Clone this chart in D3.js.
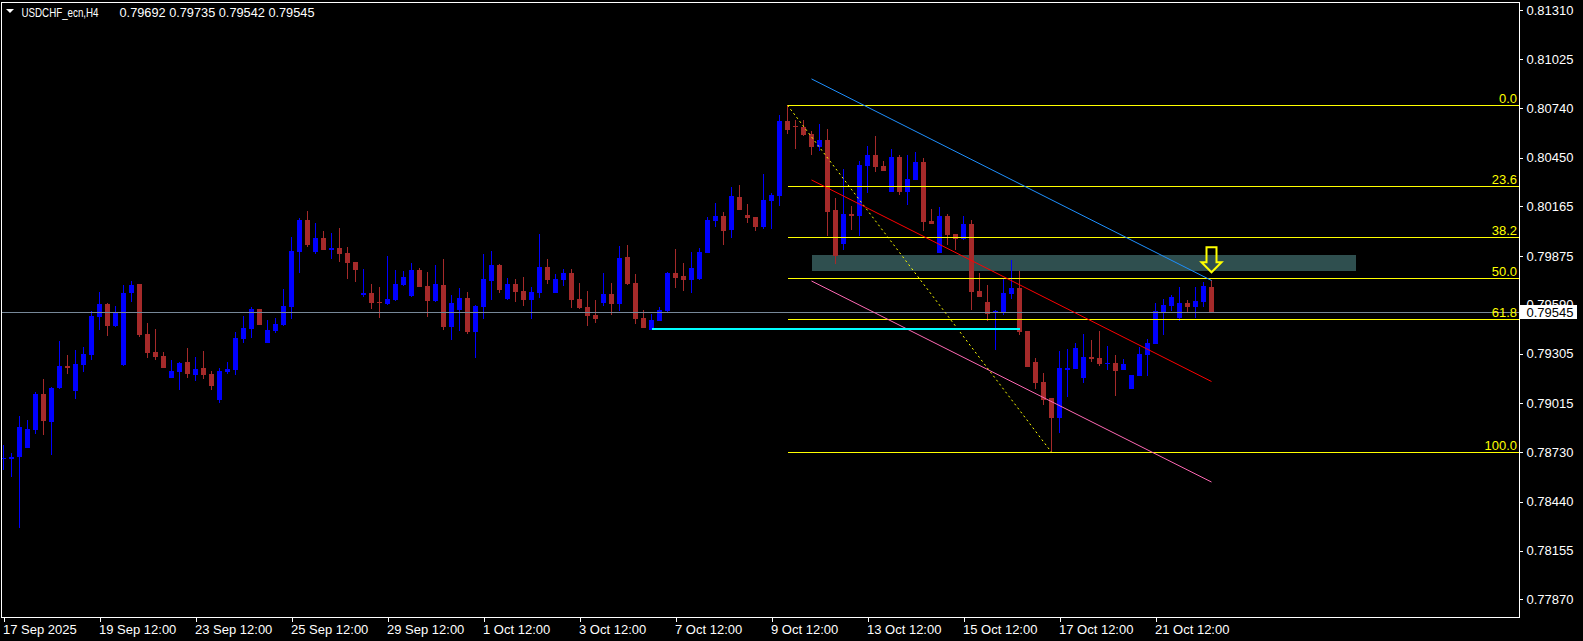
<!DOCTYPE html>
<html><head><meta charset="utf-8">
<script src="https://cdn.jsdelivr.net/npm/d3@7"></script>
<style>
html,body{margin:0;padding:0;background:#000;overflow:hidden}
svg{display:block}
text{font-family:"Liberation Sans",Arial,sans-serif}
</style></head><body>
<svg id="chart" width="1583" height="641"></svg>
<script>
const symbolTitle = "USDCHF_ecn,H4";
const headerValues = ["0.79692", "0.79735", "0.79542", "0.79545"];

const opens = [0.78690,0.78690,0.78701,0.78754,0.78859,0.79069,0.78905,0.79104,0.79233,0.79086,
0.79238,0.79297,0.79519,0.79595,0.79466,0.79238,0.79659,0.79711,0.79419,0.79314,
0.79291,0.79162,0.79198,0.79256,0.79180,0.79221,0.79186,0.79034,0.79198,0.79209,
0.79390,0.79449,0.79565,0.79367,0.79437,0.79472,0.79577,0.79898,0.80085,0.79898,
0.79980,0.79910,0.79922,0.79892,0.79840,0.79647,0.79659,0.79606,0.79595,0.79618,
0.79706,0.79641,0.79793,0.79700,0.79612,0.79706,0.79460,0.79560,0.79630,0.79431,
0.79577,0.79729,0.79822,0.79624,0.79711,0.79671,0.79618,0.79659,0.79811,0.79659,
0.79735,0.79776,0.79624,0.79577,0.79530,0.79600,0.79653,0.79595,0.79869,0.79717,
0.79513,0.79443,0.79495,0.79554,0.79776,0.79758,0.79735,0.79741,0.79892,0.80079,
0.80109,0.80027,0.80220,0.80114,0.80103,0.80044,0.80196,0.80226,0.80663,0.80636,
0.80628,0.80587,0.80512,0.80552,0.80144,0.79945,0.80120,0.80109,0.80401,0.80465,
0.80401,0.80249,0.80453,0.80249,0.80319,0.80424,0.80079,0.79892,0.80109,0.80003,
0.79974,0.80062,0.79671,0.79606,0.79542,0.79542,0.79653,0.79688,0.79437,0.79256,
0.79139,0.79046,0.78929,0.79209,0.79215,0.79162,0.79285,0.79279,0.79244,0.79250,
0.79209,0.79098,0.79174,0.79297,0.79361,0.79548,0.79583,0.79513,0.79600,0.79577,
0.79606,0.79692];
const highs = [0.78771,0.78725,0.78941,0.78917,0.79081,0.79157,0.79110,0.79379,0.79297,0.79326,
0.79344,0.79554,0.79665,0.79600,0.79583,0.79706,0.79729,0.79711,0.79484,0.79449,
0.79314,0.79268,0.79256,0.79338,0.79285,0.79320,0.79203,0.79221,0.79256,0.79431,
0.79525,0.79577,0.79565,0.79501,0.79513,0.79682,0.79986,0.80097,0.80138,0.80068,
0.80021,0.80009,0.80038,0.79928,0.79840,0.79799,0.79711,0.79694,0.79875,0.79793,
0.79787,0.79834,0.79805,0.79782,0.79822,0.79857,0.79647,0.79688,0.79665,0.79589,
0.79887,0.79904,0.79828,0.79746,0.79741,0.79752,0.79694,0.80003,0.79857,0.79770,
0.79799,0.79799,0.79717,0.79671,0.79618,0.79776,0.79717,0.79933,0.79939,0.79770,
0.79560,0.79536,0.79577,0.79782,0.79916,0.79834,0.79898,0.79922,0.80103,0.80185,
0.80132,0.80279,0.80290,0.80179,0.80103,0.80354,0.80243,0.80698,0.80755,0.80669,
0.80669,0.80605,0.80646,0.80617,0.80214,0.80383,0.80167,0.80430,0.80517,0.80576,
0.80430,0.80500,0.80465,0.80465,0.80482,0.80447,0.80150,0.80161,0.80120,0.80003,
0.80109,0.80085,0.79776,0.79706,0.79560,0.79741,0.79852,0.79787,0.79437,0.79279,
0.79192,0.79046,0.79320,0.79332,0.79367,0.79419,0.79384,0.79437,0.79349,0.79297,
0.79274,0.79180,0.79344,0.79390,0.79600,0.79624,0.79647,0.79694,0.79618,0.79694,
0.79723,0.79735];
const lows = [0.78625,0.78584,0.78286,0.78754,0.78835,0.78830,0.78713,0.79098,0.79186,0.79040,
0.79198,0.79268,0.79443,0.79408,0.79460,0.79233,0.79606,0.79402,0.79279,0.79268,
0.79221,0.79162,0.79092,0.79162,0.79145,0.79157,0.79092,0.79017,0.79186,0.79180,
0.79367,0.79396,0.79472,0.79367,0.79425,0.79466,0.79507,0.79776,0.79928,0.79887,
0.79910,0.79857,0.79840,0.79741,0.79723,0.79636,0.79565,0.79513,0.79589,0.79612,
0.79700,0.79636,0.79694,0.79519,0.79606,0.79443,0.79384,0.79437,0.79419,0.79279,
0.79507,0.79618,0.79659,0.79618,0.79606,0.79583,0.79507,0.79630,0.79711,0.79659,
0.79700,0.79571,0.79565,0.79466,0.79484,0.79583,0.79530,0.79554,0.79706,0.79478,
0.79455,0.79449,0.79495,0.79542,0.79688,0.79671,0.79659,0.79735,0.79892,0.80044,
0.79939,0.79980,0.80144,0.80068,0.80021,0.80033,0.80033,0.80167,0.80587,0.80500,
0.80576,0.80465,0.80488,0.79992,0.79828,0.79910,0.80027,0.79992,0.80243,0.80366,
0.80371,0.80249,0.80232,0.80173,0.80319,0.80021,0.80062,0.79892,0.79939,0.79910,
0.79968,0.79560,0.79636,0.79495,0.79326,0.79530,0.79624,0.79414,0.79227,0.79098,
0.79005,0.78729,0.78841,0.79052,0.79215,0.79133,0.79256,0.79233,0.79209,0.79057,
0.79209,0.79098,0.79174,0.79174,0.79361,0.79414,0.79554,0.79495,0.79542,0.79513,
0.79577,0.79542];
const closes = [0.78695,0.78701,0.78876,0.78865,0.79069,0.78911,0.79104,0.79233,0.79221,0.79244,
0.79303,0.79525,0.79595,0.79466,0.79548,0.79659,0.79706,0.79414,0.79309,0.79285,
0.79221,0.79203,0.79250,0.79186,0.79215,0.79180,0.79116,0.79203,0.79215,0.79396,
0.79455,0.79565,0.79472,0.79443,0.79478,0.79583,0.79904,0.80085,0.79939,0.79980,
0.79910,0.79922,0.79887,0.79834,0.79793,0.79659,0.79600,0.79600,0.79624,0.79711,
0.79752,0.79793,0.79694,0.79612,0.79711,0.79460,0.79600,0.79630,0.79431,0.79583,
0.79741,0.79822,0.79676,0.79711,0.79665,0.79618,0.79665,0.79811,0.79735,0.79741,
0.79776,0.79618,0.79571,0.79525,0.79507,0.79653,0.79595,0.79863,0.79711,0.79507,
0.79455,0.79501,0.79560,0.79776,0.79746,0.79735,0.79805,0.79898,0.80085,0.80109,
0.80021,0.80226,0.80144,0.80097,0.80044,0.80202,0.80232,0.80663,0.80611,0.80630,
0.80582,0.80512,0.80552,0.80132,0.79875,0.80120,0.80109,0.80406,0.80465,0.80395,
0.80371,0.80453,0.80249,0.80325,0.80424,0.80074,0.80062,0.80109,0.79998,0.79974,
0.80062,0.79665,0.79636,0.79536,0.79554,0.79659,0.79688,0.79431,0.79227,0.79133,
0.79034,0.78929,0.79221,0.79221,0.79338,0.79285,0.79274,0.79244,0.79250,0.79203,
0.79244,0.79180,0.79303,0.79367,0.79554,0.79589,0.79636,0.79600,0.79577,0.79612,
0.79700,0.79545];

const xTickIndex = [0, 12, 24, 36, 48, 60, 72, 84, 96, 108, 120, 132, 144];
const xTickLabels = ["17 Sep 2025", "19 Sep 12:00", "23 Sep 12:00", "25 Sep 12:00", "29 Sep 12:00",
  "1 Oct 12:00", "3 Oct 12:00", "7 Oct 12:00", "9 Oct 12:00", "13 Oct 12:00", "15 Oct 12:00",
  "17 Oct 12:00", "21 Oct 12:00"];
const yTickLabels = ["0.81310", "0.81025", "0.80740", "0.80450", "0.80165", "0.79875", "0.79590",
  "0.79305", "0.79015", "0.78730", "0.78440", "0.78155", "0.77870"];

const bidPrice = 0.79545;
const fibLabels = ["0.0", "23.6", "38.2", "50.0", "61.8", "100.0"];
const fibPrices = [0.80755, 0.80282, 0.79984, 0.79745, 0.79505, 0.78729];
const fibAnchorIdx = [98, 131];
const fibAnchorPrice = [0.80755, 0.78729];
const channelIdx = [101, 151];
const channelUpper = [0.80909, 0.79732];
const channelMid = [0.80319, 0.79142];
const channelLower = [0.79729, 0.78555];
const supportIdx = [81, 127];
const supportPrice = [0.79450, 0.79450];
const zoneIdx = [101, 169];
const zonePrice = [0.79881, 0.79787];
const arrowIdx = 151;
const arrowTipPrice = 0.79780;

const FONT = '"Liberation Sans",Arial,sans-serif';
const svg = d3.select("#chart");
const W = 1583, H = 641;
const plotL = 1.5, plotR = 1519.5, plotT = 2.5, plotB = 617.5;

svg.append("rect").attr("width", W).attr("height", H).attr("fill", "#000");

const x = d3.scaleLinear().domain([0, 151]).range([3.5, 1211.5]);
const y = d3.scaleLinear().domain([0.77767, 0.81358]).range([617, 2]);

// zone rectangle (background)
svg.append("rect")
  .attr("x", x(zoneIdx[0])).attr("width", x(zoneIdx[1]) - x(zoneIdx[0]))
  .attr("y", y(zonePrice[0])).attr("height", y(zonePrice[1]) - y(zonePrice[0]))
  .attr("fill", "#2F4F4F").attr("shape-rendering", "crispEdges");

// candles
const candles = d3.range(opens.length).map(i => ({i, o: opens[i], h: highs[i], l: lows[i], c: closes[i]}));
const cg = svg.append("g").attr("shape-rendering", "crispEdges");
const col = d => d.c > d.o ? "#0000FF" : "#A52A2A";
cg.selectAll("line.wick").data(candles).join("line")
  .attr("x1", d => x(d.i)).attr("x2", d => x(d.i))
  .attr("y1", d => y(d.h)).attr("y2", d => y(d.l))
  .attr("stroke", col).attr("stroke-width", 1);
cg.selectAll("rect.body").data(candles).join("rect")
  .attr("x", d => x(d.i) - 2.5).attr("width", 5)
  .attr("y", d => y(Math.max(d.o, d.c)))
  .attr("height", d => Math.max(1, Math.abs(y(d.o) - y(d.c))))
  .attr("fill", col);

// bid line
svg.append("line").attr("x1", plotL).attr("x2", plotR + 4)
  .attr("y1", y(bidPrice)).attr("y2", y(bidPrice))
  .attr("stroke", "#778899").attr("stroke-width", 1).attr("shape-rendering", "crispEdges");

// fibonacci
const fg = svg.append("g");
fibPrices.forEach((p, k) => {
  fg.append("line").attr("x1", x(fibAnchorIdx[0])).attr("x2", plotR)
    .attr("y1", y(p)).attr("y2", y(p))
    .attr("stroke", "#FFFF00").attr("stroke-width", 1).attr("shape-rendering", "crispEdges");
  fg.append("text").attr("x", 1517).attr("y", y(p) - 2.5)
    .attr("text-anchor", "end").attr("fill", "#FFFF00").attr("font-size", "13px")
    .text(fibLabels[k]);
});
fg.append("line")
  .attr("x1", x(fibAnchorIdx[0])).attr("y1", y(fibAnchorPrice[0]))
  .attr("x2", x(fibAnchorIdx[1])).attr("y2", y(fibAnchorPrice[1]))
  .attr("stroke", "#FFFF00").attr("stroke-width", 1).attr("stroke-dasharray", "2,3");

// regression channel
const chan = [[channelUpper, "#1E90FF"], [channelMid, "#FF0000"], [channelLower, "#FF69B4"]];
chan.forEach(([arr, c]) => {
  svg.append("line")
    .attr("x1", x(channelIdx[0])).attr("y1", y(arr[0]))
    .attr("x2", x(channelIdx[1])).attr("y2", y(arr[1]))
    .attr("stroke", c).attr("stroke-width", 1);
});

// support line
svg.append("line")
  .attr("x1", x(supportIdx[0])).attr("x2", x(supportIdx[1]))
  .attr("y1", y(supportPrice[0])).attr("y2", y(supportPrice[1]))
  .attr("stroke", "#00FFFF").attr("stroke-width", 2).attr("shape-rendering", "crispEdges");

// arrow
const ax = x(arrowIdx), ay = y(arrowTipPrice);
svg.append("path")
  .attr("d", `M${ax-5},${ay-25} L${ax+5},${ay-25} L${ax+5},${ay-10} L${ax+10},${ay-10} L${ax},${ay} L${ax-10},${ay-10} L${ax-5},${ay-10} Z`)
  .attr("fill", "none").attr("stroke", "#FFFF00").attr("stroke-width", 2).attr("stroke-linejoin", "miter");

// frame
svg.append("rect").attr("x", plotL).attr("y", plotT)
  .attr("width", plotR - plotL).attr("height", plotB - plotT)
  .attr("fill", "none").attr("stroke", "#FFFFFF").attr("stroke-width", 1)
  .attr("shape-rendering", "crispEdges");

// right axis
const yAxis = d3.axisRight(y)
  .tickValues(yTickLabels.map(Number))
  .tickFormat((d, i) => yTickLabels[i])
  .tickSize(3).tickPadding(4);
const gy = svg.append("g").attr("transform", `translate(${plotR},0)`).call(yAxis);
gy.select(".domain").remove();
gy.selectAll("line").attr("stroke", "#FFFFFF").attr("shape-rendering", "crispEdges");
gy.selectAll("text").attr("fill", "#FFFFFF").attr("font-size", "13px").attr("font-family", FONT);

// bottom axis
const xAxis = d3.axisBottom(x)
  .tickValues(xTickIndex)
  .tickFormat((d, i) => xTickLabels[i])
  .tickSize(4).tickPadding(3);
const gx = svg.append("g").attr("transform", `translate(0,${plotB})`).call(xAxis);
gx.select(".domain").remove();
gx.selectAll("line").attr("stroke", "#FFFFFF").attr("shape-rendering", "crispEdges");
gx.selectAll("text").attr("fill", "#FFFFFF").attr("font-size", "13px")
  .attr("text-anchor", "start").attr("x", -1).attr("font-family", FONT);

// bid label
const by = y(bidPrice);
svg.append("rect").attr("x", plotR + 0.5).attr("y", Math.round(by) - 7)
  .attr("width", 57).attr("height", 14).attr("fill", "#FFFFFF");
svg.append("text").attr("x", plotR + 7).attr("y", by + 4.5)
  .attr("fill", "#000").attr("font-size", "13px").text(headerValues[3]);

// header
svg.append("path").attr("d", "M6,9 L14,9 L10,13 Z").attr("fill", "#FFFFFF");
svg.append("text").attr("x", 21.5).attr("y", 17).attr("fill", "#FFFFFF")
  .attr("font-size", "13px").attr("textLength", 77).attr("lengthAdjust", "spacingAndGlyphs")
  .text(symbolTitle);
svg.append("text").attr("x", 119.5).attr("y", 17).attr("fill", "#FFFFFF")
  .attr("font-size", "13px").attr("textLength", 195).attr("lengthAdjust", "spacingAndGlyphs")
  .text(headerValues.join(" "));
</script>
</body></html>
